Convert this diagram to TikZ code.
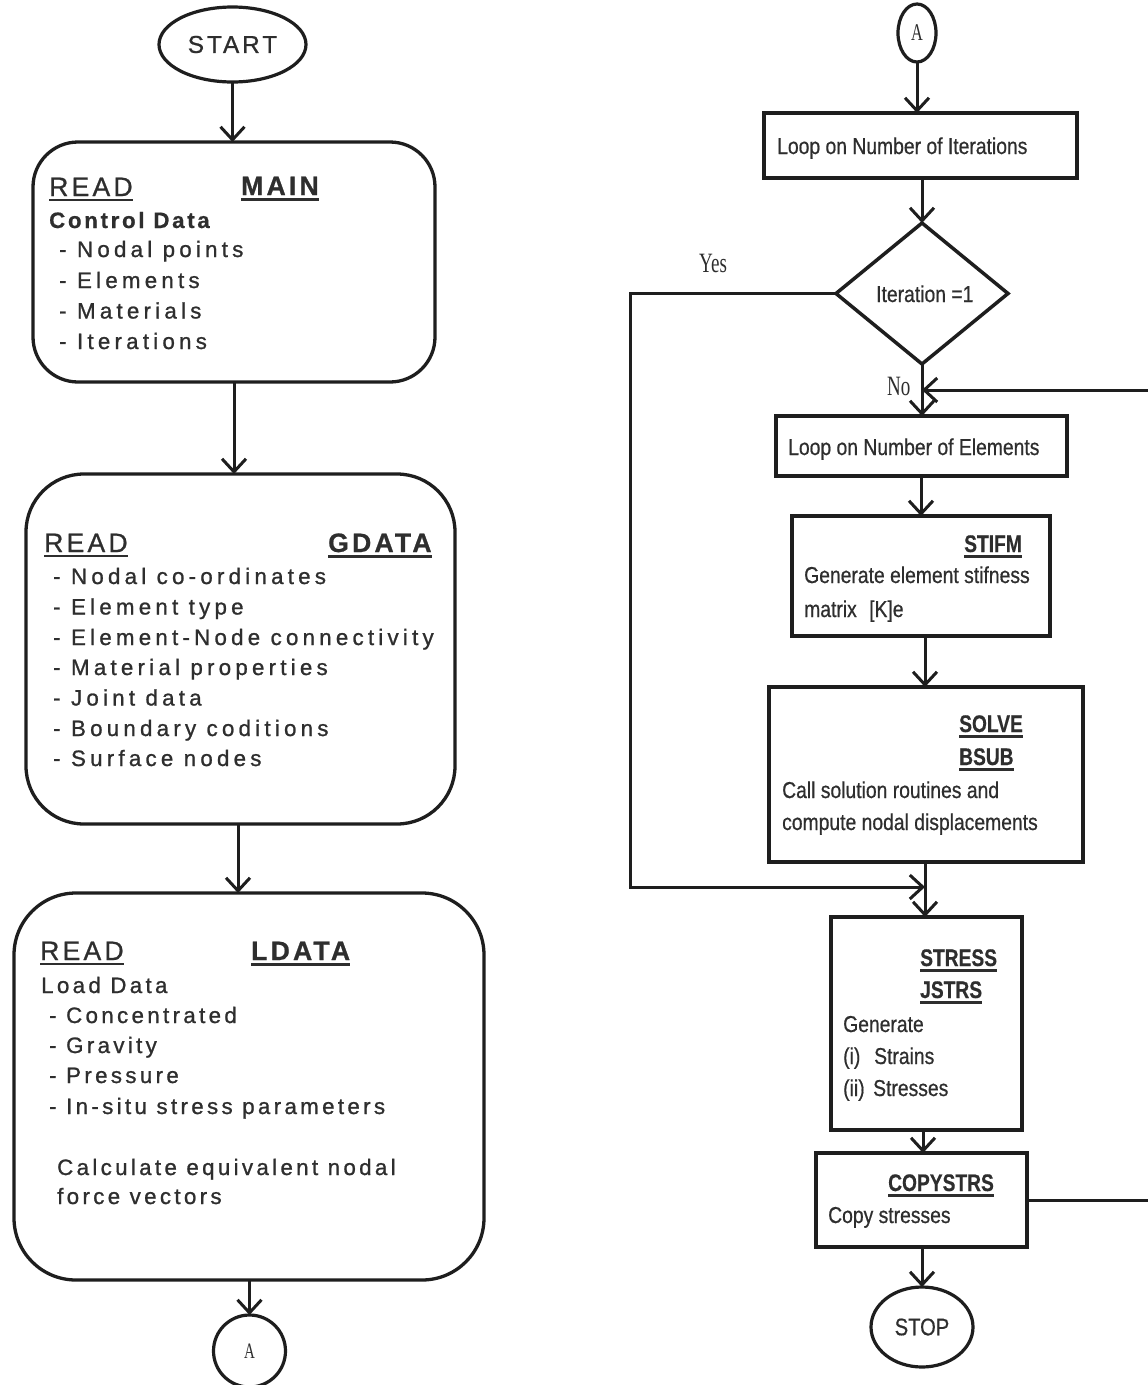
\documentclass[tikz,border=0pt]{standalone}
\usepackage{fontspec}
\setmainfont{Liberation Sans}
\newfontfamily\lfA[LetterSpace=19,FakeBold=1]{Liberation Sans}
\newfontfamily\lfC[LetterSpace=12,FakeBold=0.6]{Liberation Sans}
\newfontfamily\lfB[LetterSpace=15,FakeBold=1]{Liberation Sans}
\newfontfamily\lfH[LetterSpace=12,FakeBold=0.8]{Liberation Sans}
\newfontfamily\rfN[FakeStretch=0.84,FakeBold=0.6]{Liberation Sans}
\newfontfamily\rfB[FakeStretch=0.80,FakeBold=0.4]{Liberation Sans}
\newfontfamily\tsN[FakeStretch=0.68]{Liberation Serif}
\usetikzlibrary{shapes.geometric,arrows.meta}
\definecolor{ink}{HTML}{1E1E1E}
\definecolor{txt}{HTML}{2E2E2E}
\newcommand\ulx[3]{\setbox0=\hbox{#3}\rlap{\rule[-#2]{\wd0}{#1}}\box0}
\tikzset{
  rbox/.style={draw=ink, line width=3.3pt, rounded corners=#1, inner sep=0pt, outer sep=0pt},
  rbox/.default=45pt,
  sbox/.style={draw=ink, line width=3.5pt, inner sep=0pt, outer sep=0pt},
  term/.style={draw=ink, ellipse, line width=3.2pt, inner sep=0pt, outer sep=0pt, text=txt},
  dia/.style={draw=ink, diamond, line width=3.5pt, inner sep=0pt, outer sep=0pt},
  line/.style={draw=ink, line width=3pt},
  arr/.style={line, -{Straight Barb[length=13pt,width=24pt]}},
  ltA/.style={anchor=base west, inner sep=0pt, text=txt, font=\lfA\fontsize{22.3}{27}\selectfont},
  ltB/.style={anchor=base west, inner sep=0pt, text=txt, font=\lfB\fontsize{22.3}{27}\selectfont},
  lhd/.style={anchor=base west, inner sep=0pt, text=txt, font=\lfH\fontsize{26.6}{30}\selectfont},
  rt/.style={anchor=base west, inner sep=0pt, text=txt, font=\rfN\fontsize{23}{27}\selectfont},
  rhd/.style={anchor=base west, inner sep=0pt, text=txt, font=\rfB\bfseries\fontsize{24}{28}\selectfont},
  lbl/.style={anchor=base west, inner sep=0pt, text=txt, font=\tsN\fontsize{28}{30}\selectfont}
}
\begin{document}
\begin{tikzpicture}[x=1pt,y=-1pt]
\useasboundingbox (0,0) rectangle (1148,1385);
\fill[white] (0,0) rectangle (1148,1385);

% ---------------- left column ----------------
\node[term, minimum width=147pt, minimum height=75pt, font=\lfH\fontsize{24.4}{28}\selectfont] (start) at (232.5,44.5) {START};

\node[rbox=45pt, minimum width=402pt, minimum height=240pt] (main) at (234,262) {};
\node[lhd] (m1) at (49,196) {\ulx{2pt}{5pt}{READ}};
\node[lhd, font=\lfH\bfseries\fontsize{26.6}{30}\selectfont] (m2) at (241,195) {\ulx{3pt}{5.5pt}{MAIN}};
\node[ltA, font=\lfC\bfseries\fontsize{22.3}{27}\selectfont] (m3) at (49,228) {Control Data};
\node[ltA] (m4) at (59,257) {- Nodal points};
\node[ltA] (m5) at (59,288) {- Elements};
\node[ltA] (m6) at (59,318.5) {- Materials};
\node[ltA] (m7) at (59,349) {- Iterations};

\node[rbox=58pt, minimum width=429pt, minimum height=350pt] (gdata) at (240.5,649) {};
\node[lhd] (g1) at (44,552) {\ulx{2pt}{5pt}{READ}};
\node[lhd, font=\lfH\bfseries\fontsize{26.6}{30}\selectfont] (g2) at (328,552) {\ulx{3pt}{5.5pt}{GDATA}};
\node[ltA] (g3) at (53,584) {- Nodal co-ordinates};
\node[ltA] (g4) at (53,614.5) {- Element type};
\node[ltA] (g5) at (53,645) {- Element-Node connectivity};
\node[ltA] (g6) at (53,675) {- Material properties};
\node[ltA] (g7) at (53,705.5) {- Joint data};
\node[ltA] (g8) at (53,736) {- Boundary coditions};
\node[ltA] (g9) at (53,766) {- Surface nodes};

\node[rbox=62pt, minimum width=470pt, minimum height=387pt] (ldata) at (249,1086.5) {};
\node[lhd] (l1) at (40,960) {\ulx{2pt}{5pt}{READ}};
\node[lhd, font=\lfH\bfseries\fontsize{26.6}{30}\selectfont] (l2) at (251,960) {\ulx{3pt}{5.5pt}{LDATA}};
\node[ltB] (l3) at (41,993) {Load Data};
\node[ltB] (l4) at (49,1023) {- Concentrated};
\node[ltB] (l5) at (49,1053) {- Gravity};
\node[ltB] (l6) at (49,1083) {- Pressure};
\node[ltB] (l7) at (49,1114) {- In-situ stress parameters};
\node[ltB] (l8) at (57,1175) {Calculate equivalent nodal};
\node[ltB] (l9) at (57,1204) {force vectors};

\node[term, minimum width=72pt, minimum height=72pt, font=\tsN\fontsize{22}{24}\selectfont] (la) at (249.5,1351) {A};

\draw[arr] (start.south) -- (start.south |- main.north);
\draw[arr] (main.south) -- (main.south |- gdata.north);
\coordinate (gx) at (238,0);
\draw[arr] (gx |- gdata.south) -- (gx |- ldata.north);
\draw[arr] (la.north |- ldata.south) -- (la.north);

% ---------------- right column ----------------
\node[term, minimum width=38pt, minimum height=58pt, font=\tsN\fontsize{24}{26}\selectfont] (ra) at (917,33) {A};

\node[sbox, minimum width=313pt, minimum height=65pt] (it) at (920.5,145.5) {};
\node[rt] (itt) at (777,154) {Loop on Number of Iterations};

\node[dia, minimum width=172pt, minimum height=141pt] (dec) at (922,293.5) {};
\node[rt] (dect) at (876,302) {Iteration =1};
\node[lbl] (yes) at (699,272) {Yes};
\node[lbl] (no) at (887,395) {No};

\node[sbox, minimum width=291pt, minimum height=60pt] (el) at (921.5,446) {};
\node[rt] (elt) at (788,455) {Loop on Number of Elements};

\node[sbox, minimum width=258pt, minimum height=120pt] (stifm) at (921,576) {};
\node[rhd] (s1) at (964,552) {\ulx{2.5pt}{5.5pt}{STIFM}};
\node[rt] (s2) at (804,583) {Generate element stifness};
\node[rt] (s3) at (804,617) {\makebox[65pt][l]{matrix}[K]e};

\node[sbox, minimum width=314pt, minimum height=175pt] (solve) at (926,774.5) {};
\node[rhd] (v1) at (959,732) {\ulx{2.5pt}{5.5pt}{SOLVE}};
\node[rhd] (v2) at (959,765) {\ulx{2.5pt}{5.5pt}{BSUB}};
\node[rt] (v3) at (782,798) {Call solution routines and};
\node[rt] (v4) at (782,830) {compute nodal displacements};

\node[sbox, minimum width=191pt, minimum height=213pt] (stress) at (926.5,1023.5) {};
\node[rhd] (t1) at (920,966) {\ulx{2.5pt}{5.5pt}{STRESS}};
\node[rhd] (t2) at (920,998) {\ulx{2.5pt}{5.5pt}{JSTRS}};
\node[rt] (t3) at (843,1032) {Generate};
\node[rt] (t4) at (843,1064) {\makebox[31pt][l]{(i)}Strains};
\node[rt] (t5) at (843,1096) {\makebox[30pt][l]{(ii)}Stresses};

\node[sbox, minimum width=211pt, minimum height=94pt] (copy) at (921.5,1200) {};
\node[rhd] (c1) at (888,1191) {\ulx{2.5pt}{5.5pt}{COPYSTRS}};
\node[rt] (c2) at (828,1223) {Copy stresses};

\node[term, minimum width=102pt, minimum height=80pt, font=\rfN\fontsize{24}{28}\selectfont] (stop) at (922,1327) {STOP};

\draw[arr] (ra.south) -- (ra.south |- it.north);
\draw[arr] (dec.north |- it.south) -- (dec.north);
\draw[arr] (dec.south) -- (dec.south |- el.north);
\draw[arr] (stifm.north |- el.south) -- (stifm.north);
\coordinate (sx) at (925,0);
\draw[arr] (sx |- stifm.south) -- (sx |- solve.north);
\draw[arr] (sx |- solve.south) -- (sx |- stress.north);
\coordinate (cx) at (923,0);
\draw[arr] (cx |- stress.south) -- (cx |- copy.north);
\draw[arr] (stop.north |- copy.south) -- (stop.north);

% Yes branch
\coordinate (yc) at (630,887);
\draw[arr] (dec.west) -| (yc) -- (yc -| sx);
% loop back
\coordinate (lb1) at (1156,1200);
\coordinate (lb2) at (1156,390);
\draw[arr] (copy.east) -- (lb1) -- (lb2) -- (lb2 -| dec.south);
\end{tikzpicture}
\end{document}
